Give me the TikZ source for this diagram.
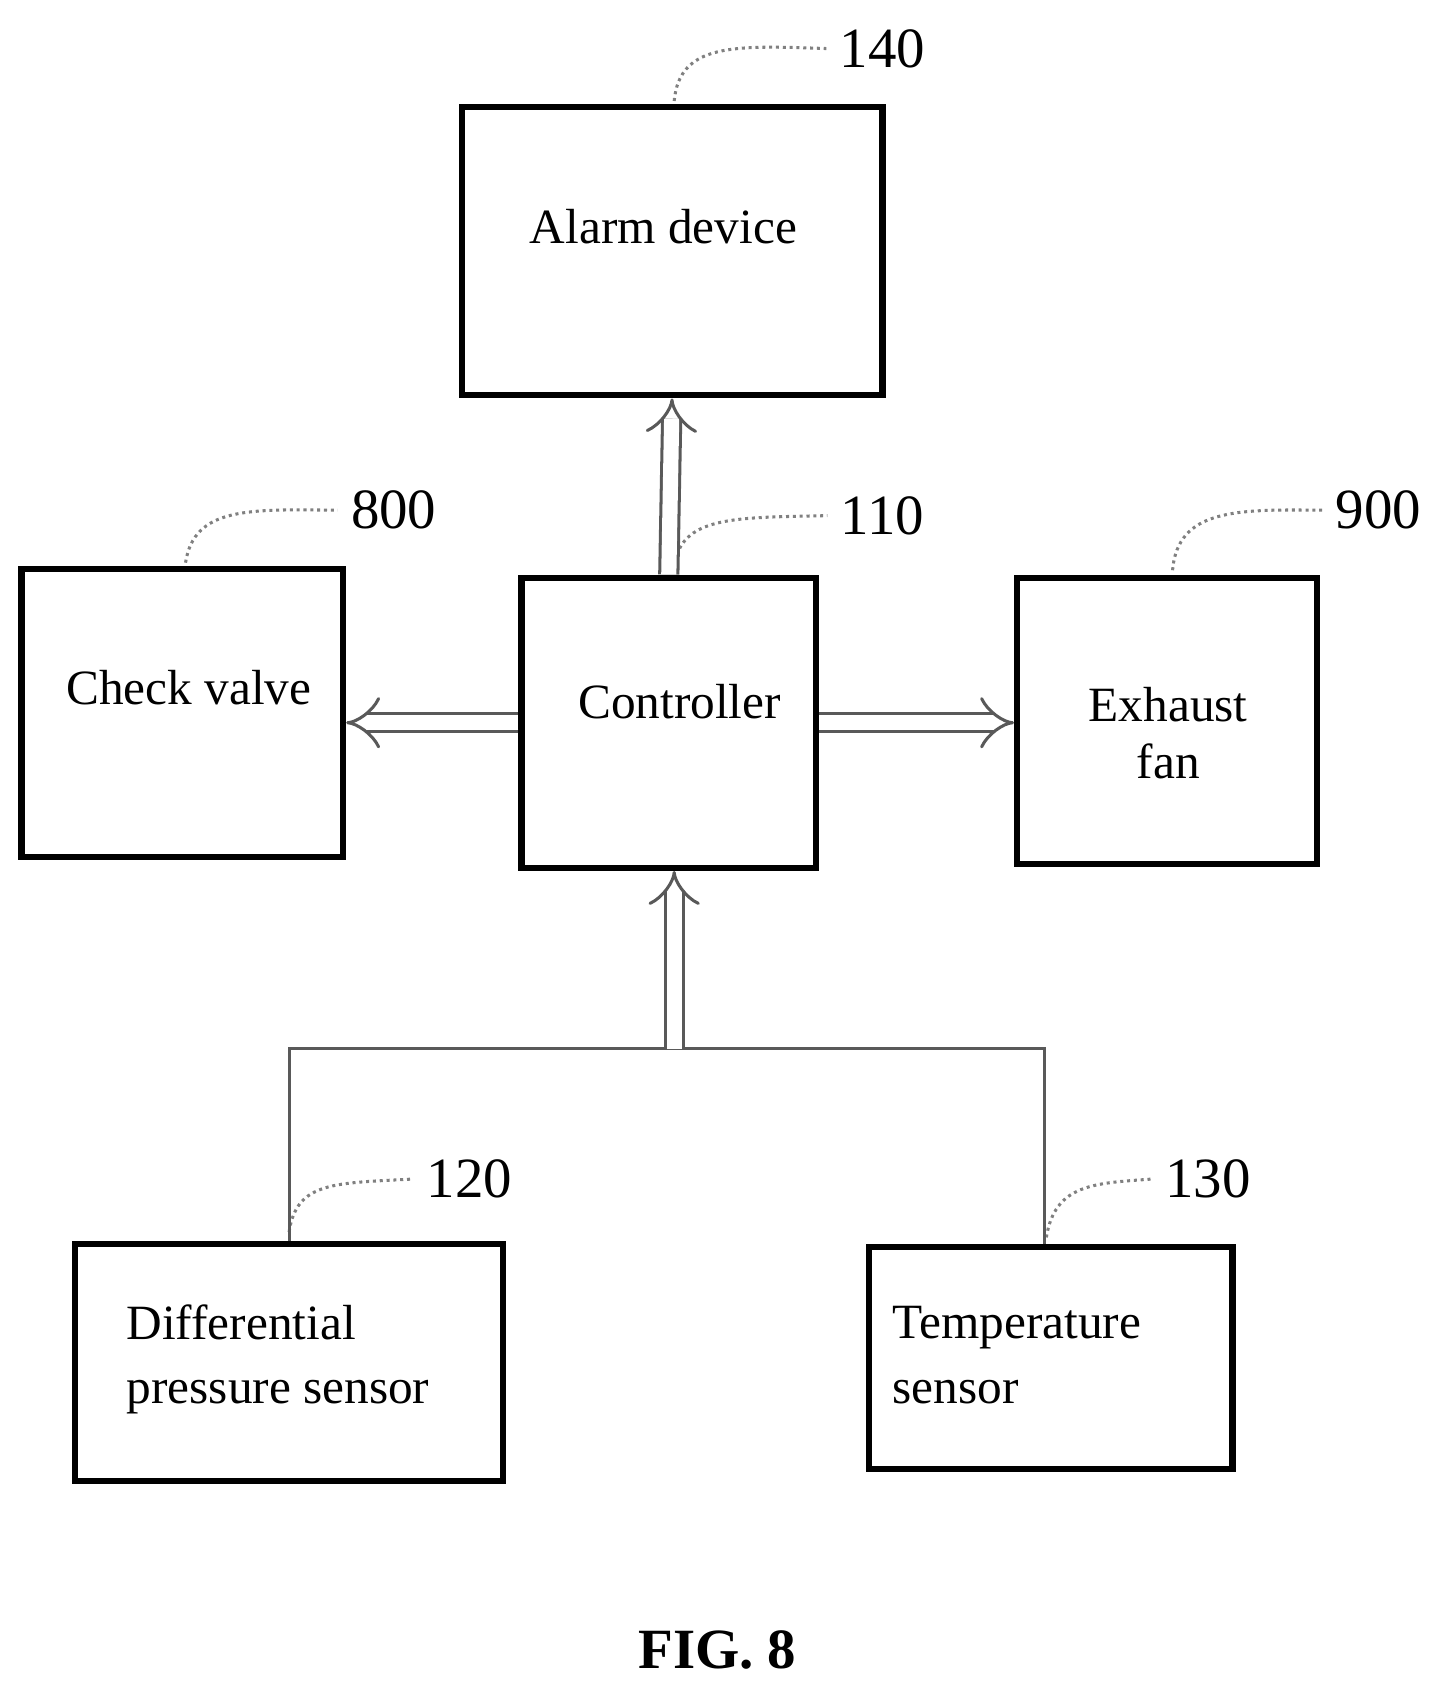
\documentclass[tikz,border=0pt]{standalone}
\usepackage{fontspec}
\setmainfont{Liberation Serif}
\usetikzlibrary{arrows.meta}
\tikzset{
	blk/.style={draw,line width=1.6pt,inner sep=0pt,font=\fontsize{13}{15}\selectfont},
	num/.style={font=\fontsize{15}{17}\selectfont},
	lead/.style={gray,densely dotted,thick},
	sig/.style={double,double distance=4pt,thick,gray!70!black,-{Implies[length=6pt]}}
}
\begin{document}
\begin{tikzpicture}[x=0.01cm,y=-0.01cm]
		\useasboundingbox (0,0) rectangle (1340,1563);
		% boxes
		\node[blk,minimum width=3.9cm,minimum height=2.67cm] (alarm) at (623,233) {};
		\node[blk,minimum width=2.98cm,minimum height=2.67cm] (check) at (169,661) {};
		\node[blk,minimum width=2.73cm,minimum height=2.69cm] (ctrl) at (620,670) {};
		\node[blk,minimum width=2.78cm,minimum height=2.65cm] (fan) at (1082,668) {};
		\node[blk,minimum width=3.96cm,minimum height=2.2cm] (dps) at (268,1263) {};
		\node[blk,minimum width=3.37cm,minimum height=2.06cm] (temp) at (974,1259) {};
		\node[font=\fontsize{13}{15}\selectfont] (talarm) at (615,210) {Alarm device};
		\node[font=\fontsize{13}{15}\selectfont] (tcheck) at (175,637) {Check valve};
		\node[font=\fontsize{13}{15}\selectfont] (tctrl) at (630,650) {Controller};
		\node[font=\fontsize{13}{15}\selectfont,align=center] (tfan) at (1083,680) {Exhaust\\fan};
		\node[font=\fontsize{13}{17}\selectfont,align=left,anchor=west] (tdps) at (105,1260) {Differential\\pressure sensor};
		\node[font=\fontsize{13}{17}\selectfont,align=left,anchor=west] (ttemp) at (815,1256) {Temperature\\sensor};
		% numbers
		\node[num] (n140) at (818,45) {140};
		\node[num] (n800) at (365,473) {800};
		\node[num] (n110) at (818,478) {110};
		\node[num] (n900) at (1278,473) {900};
		\node[num] (n120) at (435,1093) {120};
		\node[num] (n130) at (1120,1093) {130};
		\draw[lead] (alarm.north) ++(2,-3) .. controls (630,40) and (680,42) .. (n140.west);
		\draw[lead] (check.north) ++(3,-3) .. controls (180,470) and (230,472) .. (n800.west);
		\draw[lead] (ctrl.north) ++(5,-6) .. controls (630,478) and (680,480) .. (n110.west);
		\draw[lead] (fan.north) ++(5,-4) .. controls (1092,472) and (1145,472) .. (n900.west);
		\draw[lead] (dps.north) ++(0,-8) .. controls (275,1095) and (310,1097) .. (n120.west);
		\draw[lead] (temp.north) ++(-4,-6) .. controls (978,1097) and (1015,1097) .. (n130.west);
		% signals
		\coordinate (bus) at (625,972);
		\draw[gray!70!black,thick] (dps.north) -- (268,972) -- (968,972) -- (968,1153);
		\draw[sig] (bus) -- (ctrl.south -| bus);
		\draw[sig] (ctrl.north) -- (alarm.south);
		\draw[sig] (ctrl.west |- 0,670) -- (check.east |- 0,670);
		\draw[sig] (ctrl.east |- 0,670) -- (fan.west |- 0,670);
		\node[font=\bfseries\fontsize{15}{17}\selectfont] (fig) at (665,1530) {FIG. 8};
	\end{tikzpicture}
\end{document}
